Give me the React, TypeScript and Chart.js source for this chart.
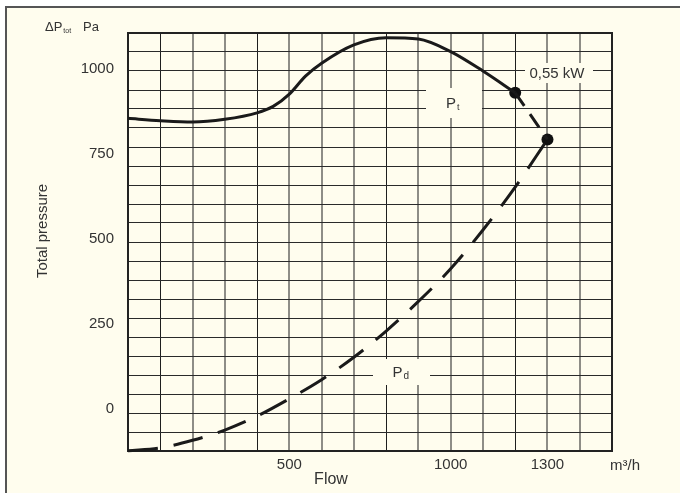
import { useEffect, useRef } from 'react';
import { Chart, registerables } from 'chart.js';

Chart.register(...registerables);

// ---- data ----
const flowPt = [0, 100, 200, 300, 400, 450, 500, 550, 600, 700, 800, 900, 1000, 1100, 1200];
const pressurePt = [854, 847, 843, 851, 870, 889, 925, 978, 1016, 1070, 1091, 1087, 1050, 993, 929];
const flowPtExt = [1200, 1300];
const pressurePtExt = [929, 792];
const flowPd = [0, 100, 200, 300, 400, 500, 600, 700, 800, 900, 1000, 1100, 1200, 1300];
const pressurePd = [-123, -114, -92, -62, -21, 30, 86, 152, 229, 316, 412, 526, 652, 792];
const operatingFlow = [1200, 1300];
const operatingPressure = [929, 792];
const flowTickLabels = [500, 1000, 1300];
const pressureTickLabels = [0, 250, 500, 750, 1000];

const FLOW_MIN = 0;
const FLOW_MAX = 1500;
const FLOW_GRID_STEP = 100;
const P_MIN = -123.4;
const P_MAX = 1104.6;
const P_GRID_ROWS = 22;

const CREAM = '#fffdee';
const INK = '#1a1a1a';
const TEXT = '#333333';
const FONT = 'Arial, "Liberation Sans", Helvetica, sans-serif';

const toXY = (xs: number[], ys: number[]) => xs.map((x, i) => ({ x, y: ys[i] }));

const darkCols = new Set([0, 1, 4, 8, 12, 15]);

const decorPlugin = {
  id: 'decor',
  beforeDraw(chart: any) {
    const { ctx, width, height } = chart;
    ctx.save();
    ctx.fillStyle = '#ffffff';
    ctx.fillRect(0, 0, width, height);
    ctx.fillStyle = CREAM;
    ctx.fillRect(6, 7, width - 6, height - 7);
    ctx.strokeStyle = '#555555';
    ctx.lineWidth = 2;
    ctx.beginPath();
    ctx.moveTo(6, height);
    ctx.lineTo(6, 7);
    ctx.lineTo(width, 7);
    ctx.stroke();
    ctx.restore();
  },
  beforeDatasetsDraw(chart: any) {
    const { ctx, chartArea: a } = chart;
    ctx.save();
    ctx.fillStyle = CREAM;
    ctx.fillRect(426, 88, 56, 30); // P_t box
    ctx.fillRect(373, 359, 57, 26); // P_d box
    ctx.fillRect(525, 63, 68, 20); // 0,55 kW box
    ctx.strokeStyle = '#222222';
    ctx.lineWidth = 2;
    ctx.strokeRect(a.left, a.top, a.right - a.left, a.bottom - a.top);
    ctx.restore();
  },
  afterDraw(chart: any) {
    const { ctx } = chart;
    ctx.save();
    ctx.fillStyle = TEXT;
    ctx.textBaseline = 'alphabetic';
    // ΔPtot Pa
    ctx.textAlign = 'left';
    ctx.font = `13px ${FONT}`;
    ctx.fillText('\u0394P', 45, 31);
    const w1 = ctx.measureText('\u0394P').width;
    ctx.font = `7px ${FONT}`;
    ctx.fillText('tot', 45 + w1 + 1, 33);
    ctx.font = `13px ${FONT}`;
    ctx.fillText('Pa', 83, 31);

    // Total pressure (rotated)
    ctx.save();
    ctx.translate(47, 231);
    ctx.rotate(-Math.PI / 2);
    ctx.textAlign = 'center';
    ctx.font = `15px ${FONT}`;
    ctx.fillText('Total pressure', 0, 0);
    ctx.restore();

    // Flow
    ctx.textAlign = 'center';
    ctx.font = `16px ${FONT}`;
    ctx.fillText('Flow', 331, 484);

    // m³/h
    ctx.font = `15px ${FONT}`;
    ctx.fillText('m\u00b3/h', 625, 470);

    // 0,55 kW
    ctx.fillText('0,55 kW', 557, 78);

    // P_t
    ctx.textAlign = 'left';
    ctx.font = `15px ${FONT}`;
    ctx.fillText('P', 446, 107.5);
    ctx.font = `9px ${FONT}`;
    ctx.fillText('t', 457, 110);

    // P_d
    ctx.font = `15px ${FONT}`;
    ctx.fillText('P', 392.5, 376.5);
    ctx.font = `10px ${FONT}`;
    ctx.fillText('d', 403.5, 379);
    ctx.restore();
  },
};

export default function App() {
  const ref = useRef<HTMLCanvasElement | null>(null);

  useEffect(() => {
    if (!ref.current) return;
    const chart = new Chart(ref.current, {
      type: 'line',
      data: {
        datasets: [
          {
            data: toXY(flowPt, pressurePt),
            borderColor: INK,
            borderWidth: 3,
            pointRadius: 0,
            cubicInterpolationMode: 'monotone',
            fill: false,
            clip: false,
          } as any,
          {
            data: toXY(flowPtExt, pressurePtExt),
            borderColor: INK,
            borderWidth: 3,
            borderDash: [16, 10],
            pointRadius: 0,
            fill: false,
          },
          {
            data: toXY(flowPd, pressurePd),
            borderColor: INK,
            borderWidth: 3,
            borderDash: [30, 16],
            pointRadius: 0,
            cubicInterpolationMode: 'monotone',
            fill: false,
            clip: false,
          } as any,
          {
            data: toXY(operatingFlow, operatingPressure),
            showLine: false,
            pointRadius: 6,
            pointBackgroundColor: '#111111',
            pointBorderWidth: 0,
            borderColor: '#111111',
          },
        ],
      },
      options: {
        animation: false,
        responsive: false,
        devicePixelRatio: 1,
        layout: { padding: { left: 0, top: 33, right: 68, bottom: 0 } },
        plugins: { legend: { display: false }, tooltip: { enabled: false } },
        scales: {
          x: {
            type: 'linear',
            min: FLOW_MIN,
            max: FLOW_MAX,
            afterBuildTicks: (s: any) => {
              const t = [];
              for (let v = FLOW_MIN; v <= FLOW_MAX; v += FLOW_GRID_STEP) t.push({ value: v });
              s.ticks = t;
            },
            afterFit: (s: any) => {
              s.height = 42;
            },
            ticks: {
              autoSkip: false,
              maxRotation: 0,
              padding: 5,
              color: TEXT,
              font: { family: FONT, size: 15 },
              callback: (v: any) => (flowTickLabels.includes(Number(v)) ? String(v) : ''),
            },
            grid: {
              drawTicks: false,
              color: (c: any) => (darkCols.has(c.index) ? '#1e1e1e' : 'rgba(30,30,30,0.5)'),
              lineWidth: (c: any) => (darkCols.has(c.index) ? 1 : 2),
            },
            border: { display: false },
          },
          y: {
            type: 'linear',
            position: 'left',
            min: P_MIN,
            max: P_MAX,
            afterBuildTicks: (s: any) => {
              s.ticks = pressureTickLabels.map((v) => ({ value: v }));
            },
            afterFit: (s: any) => {
              s.width = 128;
            },
            ticks: {
              padding: 14,
              color: TEXT,
              font: { family: FONT, size: 15 },
              callback: (v: any) => String(v),
            },
            grid: { display: false, drawTicks: false },
            border: { display: false },
          },
          yg: {
            type: 'linear',
            position: 'right',
            min: P_MIN,
            max: P_MAX,
            afterBuildTicks: (s: any) => {
              const t = [];
              const step = (P_MAX - P_MIN) / P_GRID_ROWS;
              for (let i = 0; i <= P_GRID_ROWS; i++) t.push({ value: P_MIN + i * step });
              s.ticks = t;
            },
            afterFit: (s: any) => {
              s.width = 0;
            },
            ticks: { display: false },
            grid: { drawTicks: false, color: '#2a2a2a', lineWidth: 1 },
            border: { display: false },
          },
        },
      },
      plugins: [decorPlugin],
    });
    return () => chart.destroy();
  }, []);

  return (
    <div style={{ position: 'fixed', left: 0, top: 0, width: 680, height: 493 }}>
      <canvas ref={ref} width={680} height={493} style={{ display: 'block', width: 680, height: 493 }} />
    </div>
  );
}
